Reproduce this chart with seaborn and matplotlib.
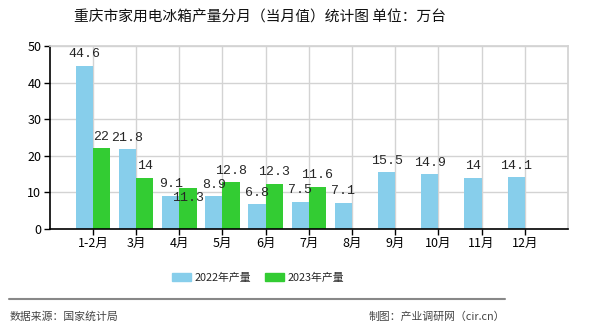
import matplotlib
matplotlib.use("Agg")
import matplotlib.pyplot as plt
import numpy as np
import pandas as pd
import seaborn as sns

months = ["1-2月", "3月", "4月", "5月", "6月", "7月", "8月", "9月", "10月", "11月", "12月"]
series_names = ["2022年产量", "2023年产量"]
values_2022 = [44.6, 21.8, 9.1, 8.9, 6.8, 7.5, 7.1, 15.5, 14.9, 14, 14.1]
values_2023 = [22, 14, 11.3, 12.8, 12.3, 11.6, None, None, None, None, None]
y_ticks = [0, 10, 20, 30, 40, 50]

title = "重庆市家用电冰箱产量分月（当月值）统计图 单位：万台"
source_text = "数据来源：国家统计局"
credit_text = "制图：产业调研网（cir.cn）"

colors = {"2022年产量": "#87CEEB", "2023年产量": "#33CC33"}

sns.set_theme(style="white")
plt.rcParams["font.family"] = ["Noto Sans CJK SC", "DejaVu Sans"]

df = pd.DataFrame({
    "month": months * 2,
    "series": [series_names[0]] * len(months) + [series_names[1]] * len(months),
    "value": values_2022 + values_2023,
})
df["value"] = pd.to_numeric(df["value"])

fig = plt.figure(figsize=(5.9, 3.3), dpi=100)
ax = fig.add_axes([49.7 / 590, 1 - 229 / 330, (568 - 49.7) / 590, (229 - 46) / 330])

sns.barplot(data=df, x="month", y="value", hue="series", order=months,
            hue_order=series_names, palette=colors, saturation=1, width=0.8,
            errorbar=None, legend=False, ax=ax, zorder=2, linewidth=0,
            edgecolor="none")

ax.set_xlim(-1, len(months))
ax.set_ylim(0, 50)
ax.set_yticks(y_ticks)
ax.set_xlabel("")
ax.set_ylabel("")
ax.grid(True, color="#d3d3d3", linewidth=1, zorder=0)
ax.set_axisbelow(True)
for side in ("top", "right"):
    ax.spines[side].set_color("#d3d3d3")
for side in ("left", "bottom"):
    ax.spines[side].set_color("black")
    ax.spines[side].set_linewidth(1.2)
ax.tick_params(axis="both", which="both", direction="out", length=4, width=1,
               color="black", labelsize=9, labelcolor="black", pad=2,
               bottom=True, left=True)

# value labels above each bar; the 4月 2023 label sits just under the bar top
label_family = ["Liberation Mono", "DejaVu Sans Mono"]
for ci, container in enumerate(ax.containers):
    for patch in container.patches:
        h = patch.get_height()
        if np.isnan(h):
            continue
        x = patch.get_x() + patch.get_width() / 2
        text = f"{h:g}"
        if ci == 1 and text == "11.3":
            ax.annotate(text, (x, h), xytext=(0, -3), textcoords="offset points",
                        ha="center", va="top", family=label_family, fontsize=9.5,
                        zorder=4)
        else:
            ax.annotate(text, (x, h), xytext=(0, 4), textcoords="offset points",
                        ha="center", va="bottom", family=label_family, fontsize=9.5,
                        zorder=4)

fig.text(260 / 590, 1 - 17 / 330, title, ha="center", va="center",
         fontsize=10.6, color="#111111")

# legend
handles = [plt.Rectangle((0, 0), 1, 1, color=colors[s]) for s in series_names]
fig.legend(handles, series_names, loc="center", bbox_to_anchor=(258 / 590, 1 - 277.5 / 330),
           ncol=2, frameon=False, fontsize=7.8, handlelength=1.75, handleheight=0.85,
           handletextpad=0.35, columnspacing=1.3)

# footer
fig.add_artist(plt.Line2D([9 / 590, 505 / 590], [1 - 298.5 / 330] * 2,
                          color="#888888", linewidth=1.5, transform=fig.transFigure))
fig.text(10 / 590, 1 - 316.5 / 330, source_text, ha="left", va="center",
         fontsize=7.8, color="#444444")
fig.text(505 / 590, 1 - 316.5 / 330, credit_text, ha="right", va="center",
         fontsize=7.8, color="#444444")

fig.savefig("out.png", dpi=100, facecolor="white")
